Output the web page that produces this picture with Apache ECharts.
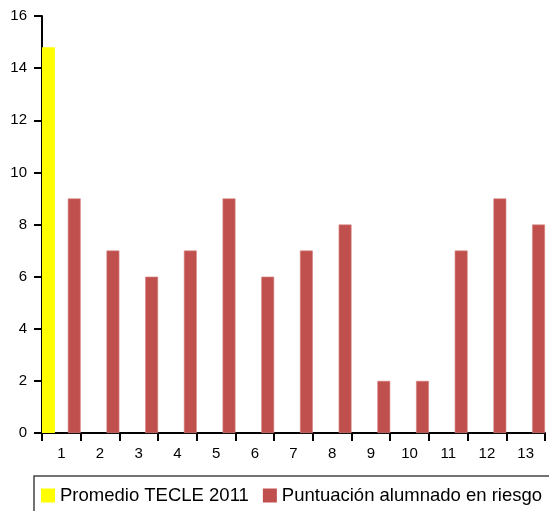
<!DOCTYPE html>
<html>
<head>
<meta charset="utf-8">
<script src="https://cdn.jsdelivr.net/npm/echarts@6/dist/echarts.min.js"></script>
<style>
  html, body { margin: 0; padding: 0; background: #fff; }
  #chart { width: 549px; height: 511px; }
</style>
</head>
<body>
<div id="chart"></div>
<script>
// Categories along the x axis
const categories = ['1', '2', '3', '4', '5', '6', '7', '8', '9', '10', '11', '12', '13'];
// Reference average, only shown for the first category
const promedioTecle = [14.8, null, null, null, null, null, null, null, null, null, null, null, null];
// Scores of each student at risk
const puntuacionRiesgo = [9, 7, 6, 7, 9, 6, 7, 8, 2, 2, 7, 9, 8];
// Y-axis range
const yMin = 0, yMax = 16, yStep = 2;

const font = '"Liberation Sans", Arial, Helvetica, sans-serif';
const chart = echarts.init(document.getElementById('chart'), null, { renderer: 'canvas' });

chart.setOption({
  animation: false,
  backgroundColor: '#ffffff',
  grid: { left: 42, right: 4, top: 16, bottom: 78, containLabel: false },
  legend: {
    left: 34,
    top: 476,
    width: 620,
    padding: [10, 20, 30, 7],
    itemWidth: 14,
    itemHeight: 14,
    itemGap: 14,
    borderColor: '#444',
    borderWidth: 1.5,
    icon: 'rect',
    itemStyle: { borderWidth: 0 },
    textStyle: { fontFamily: font, fontSize: 18.5, color: '#000' },
    data: ['Promedio TECLE 2011', 'Puntuación alumnado en riesgo']
  },
  xAxis: {
    type: 'category',
    data: categories,
    axisLine: { lineStyle: { color: '#000', width: 2 } },
    axisTick: { show: true, length: 8, lineStyle: { color: '#000', width: 2 } },
    axisLabel: { fontFamily: font, fontSize: 15, color: '#000', margin: 13 }
  },
  yAxis: {
    type: 'value',
    min: yMin,
    max: yMax,
    interval: yStep,
    splitLine: { show: false },
    axisLine: { show: true, lineStyle: { color: '#000', width: 2 } },
    axisTick: { show: true, length: 8, lineStyle: { color: '#000', width: 2 } },
    axisLabel: { fontFamily: font, fontSize: 15, color: '#000', margin: 15 }
  },
  series: [
    {
      name: 'Promedio TECLE 2011',
      type: 'bar',
      data: promedioTecle,
      barWidth: 12.9,
      barGap: '100%',
      barCategoryGap: 0,
      itemStyle: { color: '#FFFF00' }
    },
    {
      name: 'Puntuación alumnado en riesgo',
      type: 'bar',
      data: puntuacionRiesgo,
      barWidth: 12.9,
      barGap: '100%',
      barCategoryGap: 0,
      itemStyle: { color: '#C0504D', borderColor: '#D98A88', borderWidth: 0.6 }
    }
  ]
});
</script>
</body>
</html>
